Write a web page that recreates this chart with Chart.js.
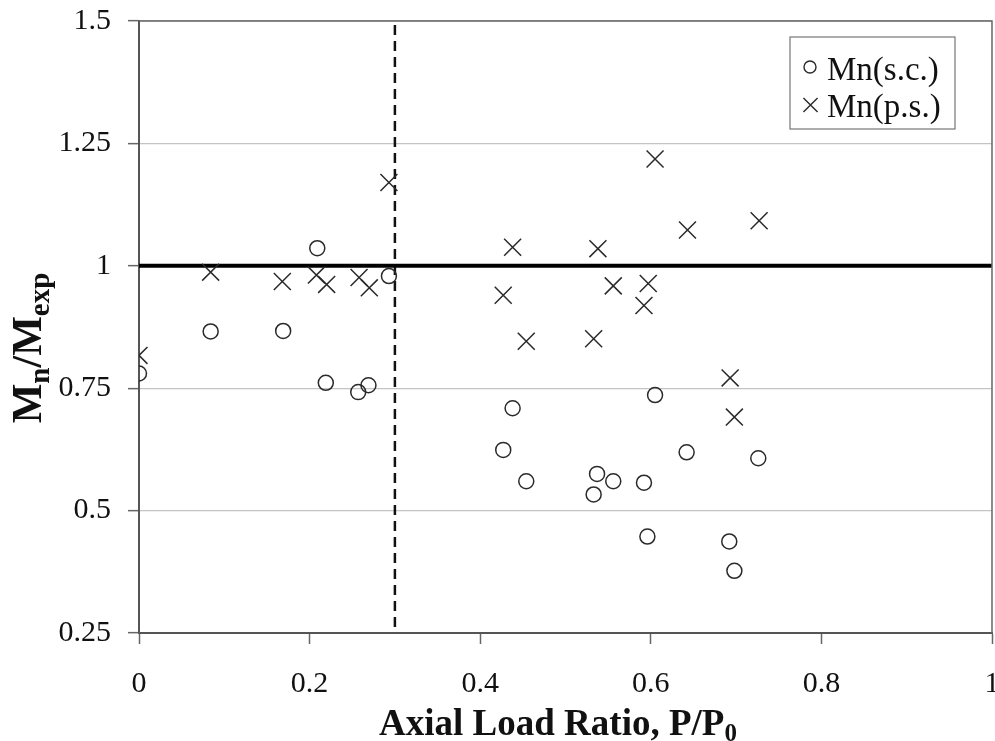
<!DOCTYPE html>
<html><head><meta charset="utf-8">
<script src="https://cdn.jsdelivr.net/npm/chart.js@4/dist/chart.umd.min.js"></script>
<style>html,body{margin:0;padding:0;background:#fff}</style>
</head><body>
<canvas id="c" width="995" height="741" style="width:995px;height:741px;display:block"></canvas>
<script>
// Series: Mn(s.c.) — circles
const scX = [0.000, 0.084, 0.169, 0.209, 0.293, 0.219, 0.257, 0.269, 0.438, 0.427, 0.454, 0.537, 0.556, 0.533, 0.592, 0.605, 0.642, 0.726, 0.596, 0.692, 0.698];
const scY = [0.780, 0.866, 0.867, 1.036, 0.979, 0.761, 0.742, 0.756, 0.709, 0.624, 0.560, 0.575, 0.560, 0.533, 0.557, 0.736, 0.619, 0.607, 0.447, 0.437, 0.377];
// Series: Mn(p.s.) — crosses
const psX = [0.000, 0.084, 0.168, 0.208, 0.220, 0.258, 0.270, 0.293, 0.605, 0.727, 0.643, 0.438, 0.538, 0.427, 0.556, 0.597, 0.592, 0.454, 0.533, 0.693, 0.698];
const psY = [0.817, 0.987, 0.968, 0.981, 0.962, 0.976, 0.955, 1.170, 1.218, 1.092, 1.073, 1.038, 1.035, 0.940, 0.959, 0.964, 0.919, 0.846, 0.851, 0.771, 0.691];
// Reference lines
const unityY = 1.0;
const limitX = 0.3;
// Axis ticks
const xTicks = [0, 0.2, 0.4, 0.6, 0.8, 1];
const yTicks = [0.25, 0.5, 0.75, 1, 1.25, 1.5];
const seriesNames = ['Mn(s.c.)', 'Mn(p.s.)'];

const toPts = (xs, ys) => xs.map((x, i) => ({x: x, y: ys[i]}));
const SERIF = '"Liberation Serif", "Times New Roman", serif';
const INK = '#2a2a2a';
const AREA = {left: 139, top: 21, right: 992, bottom: 633};

const areaPlugin = {
  id: 'fixArea',
  afterLayout(chart) {
    const ca = chart.chartArea;
    const xs = chart.scales.x;
    if (Math.abs(ca.right - AREA.right) > 0.5) {
      ca.right = AREA.right;
      ca.width = ca.right - ca.left;
      xs.right = AREA.right;
      xs.width = xs.right - xs.left;
      xs.configure();
    }
  }
};

const framePlugin = {
  id: 'frameAndText',
  afterDraw(chart) {
    const ctx = chart.ctx;
    const a = chart.chartArea;
    ctx.save();
    ctx.strokeStyle = '#666';
    ctx.lineWidth = 1.5;
    ctx.beginPath();
    ctx.moveTo(a.left, a.top);
    ctx.lineTo(a.right, a.top);
    ctx.lineTo(a.right, a.bottom);
    ctx.stroke();

    function rich(parts, cx, cy) {
      let total = 0;
      parts.forEach(p => { ctx.font = 'bold ' + p.size + 'px ' + SERIF; p.w = ctx.measureText(p.t).width; total += p.w; });
      let x = cx - total / 2;
      ctx.textBaseline = 'alphabetic';
      ctx.textAlign = 'left';
      parts.forEach(p => { ctx.font = 'bold ' + p.size + 'px ' + SERIF; ctx.fillText(p.t, x, cy + (p.dy || 0)); x += p.w; });
    }
    ctx.fillStyle = '#111';
    rich([{t: 'Axial Load Ratio, P/P', size: 37}, {t: '0', size: 25, dy: 6}], 558, 735);
    ctx.save();
    ctx.translate(41, 348);
    ctx.rotate(-Math.PI / 2);
    rich([{t: 'M', size: 42}, {t: 'n', size: 29, dy: 8}, {t: '/M', size: 42}, {t: 'exp', size: 29, dy: 8}], 0, 0);
    ctx.restore();

    const bx = 790, by = 37, bw = 165, bh = 92;
    ctx.fillStyle = '#fff';
    ctx.fillRect(bx, by, bw, bh);
    ctx.strokeStyle = '#777';
    ctx.lineWidth = 1.2;
    ctx.strokeRect(bx, by, bw, bh);
    ctx.fillStyle = '#111';
    ctx.font = '33px ' + SERIF;
    ctx.textAlign = 'left';
    ctx.textBaseline = 'alphabetic';
    ctx.fillText(seriesNames[0], 827, 80);
    ctx.fillText(seriesNames[1], 827, 117);
    ctx.strokeStyle = INK;
    ctx.fillStyle = 'rgba(0,0,0,0)';
    ctx.lineWidth = 1.4;
    Chart.helpers.drawPoint(ctx, {pointStyle: 'circle', radius: 6, borderWidth: 1.4, rotation: 0}, 810, 67);
    Chart.helpers.drawPoint(ctx, {pointStyle: 'crossRot', radius: 10, borderWidth: 1.4, rotation: 0}, 810.5, 105);
    ctx.restore();
  }
};

new Chart(document.getElementById('c'), {
  type: 'scatter',
  data: {
    datasets: [
      {
        label: 'unity', type: 'line',
        data: [{x: xTicks[0], y: unityY}, {x: xTicks[xTicks.length - 1], y: unityY}],
        borderColor: '#000', borderWidth: 4, pointRadius: 0, fill: false, order: 3
      },
      {
        label: 'limit', type: 'line',
        data: [{x: limitX, y: 0.262}, {x: limitX, y: yTicks[yTicks.length - 1]}],
        borderColor: '#111', borderWidth: 2.5, borderDash: [10, 6], pointRadius: 0, fill: false, order: 3
      },
      {
        label: seriesNames[0],
        data: toPts(scX, scY),
        pointStyle: 'circle', pointRadius: 7.5, pointBorderWidth: 1.5,
        borderColor: INK, backgroundColor: 'rgba(0,0,0,0)', order: 1
      },
      {
        label: seriesNames[1],
        data: toPts(psX, psY),
        pointStyle: 'crossRot', pointRadius: 12, pointBorderWidth: 1.5,
        borderColor: INK, backgroundColor: 'rgba(0,0,0,0)', order: 2
      }
    ]
  },
  options: {
    responsive: false,
    animation: false,
    events: [],
    layout: {padding: {left: 0, top: 21, right: 3, bottom: 0}},
    plugins: {legend: {display: false}, tooltip: {enabled: false}, title: {display: false}},
    scales: {
      x: {
        type: 'linear', min: 0, max: 1,
        afterFit: s => {
          s.height = 108; s.paddingLeft = 0; s.paddingRight = 0;
          s.getPadding = () => ({left: 0, right: 0, top: 0, bottom: 0});
        },
        afterBuildTicks: s => { s.ticks = xTicks.map(v => ({value: v})); },
        ticks: {
          font: {family: SERIF, size: 30}, color: '#111', padding: 22,
          maxRotation: 0, autoSkip: false,
          callback: v => String(v)
        },
        grid: {drawOnChartArea: false, drawTicks: true, tickLength: 11, tickColor: '#666', tickWidth: 1.5},
        border: {color: '#555', width: 2}
      },
      y: {
        type: 'linear', min: 0.25, max: 1.5,
        afterFit: s => {
          s.width = 139; s.paddingTop = 0; s.paddingBottom = 0;
          s.getPadding = () => ({left: 0, right: 0, top: 0, bottom: 0});
        },
        afterBuildTicks: s => { s.ticks = yTicks.map(v => ({value: v})); },
        ticks: {
          font: {family: SERIF, size: 30}, color: '#111', padding: 17,
          autoSkip: false,
          callback: v => String(v)
        },
        grid: {color: '#c4c4c4', lineWidth: 1.3, tickLength: 11, tickColor: '#666', tickWidth: 1.5},
        border: {color: '#555', width: 2}
      }
    }
  },
  plugins: [areaPlugin, framePlugin]
});
</script>
</body></html>
